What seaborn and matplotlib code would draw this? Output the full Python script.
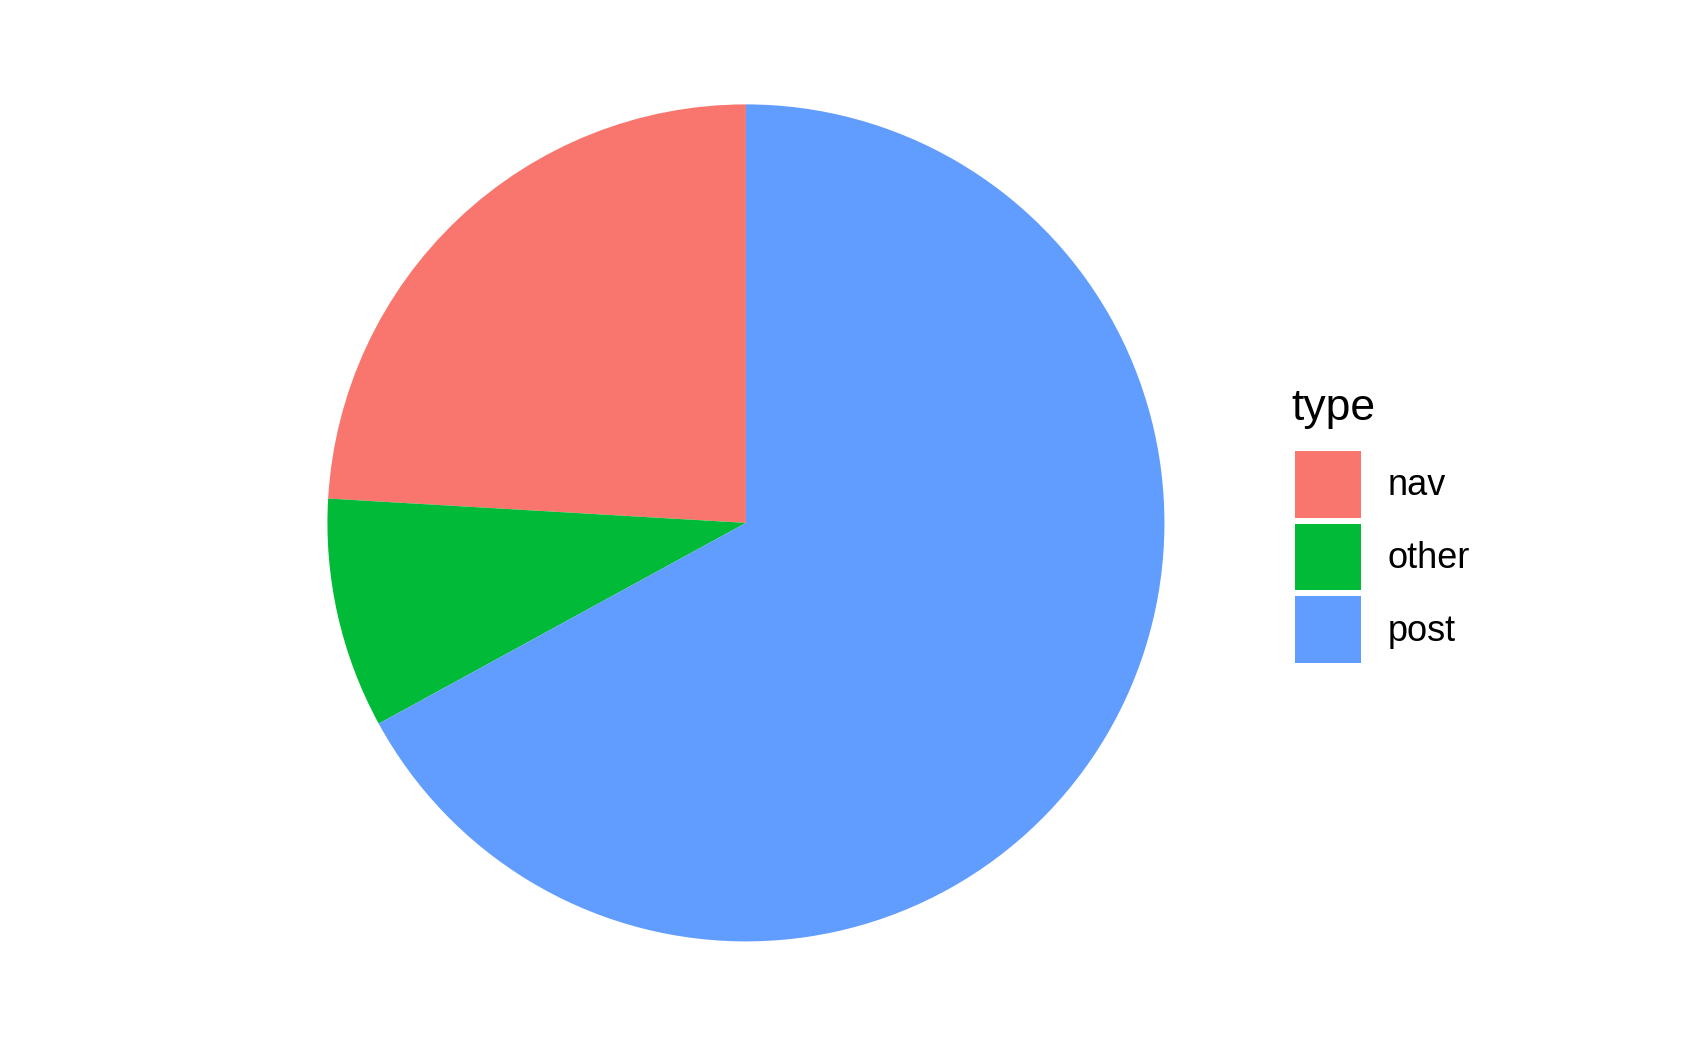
import matplotlib
matplotlib.use("Agg")
import matplotlib.pyplot as plt
from matplotlib.patches import Patch
import seaborn as sns

# share of pages by type
types = ["nav", "other", "post"]
counts = [65, 24, 181]
colors = ["#F8766D", "#00BA38", "#619CFF"]

sns.set_theme(style="white")
plt.rcParams['font.family'] = ['Liberation Sans', 'DejaVu Sans']

W, H = 1693, 1046
fig = plt.figure(figsize=(W / 100, H / 100), dpi=100)
ax = fig.add_axes([0.1934, 0.1000, 0.4944, 0.8002])

ax.pie(counts, colors=colors, startangle=90, counterclock=True,
       wedgeprops={"linewidth": 0})
ax.set_xlim(-1, 1)
ax.set_ylim(-1, 1)
ax.set_aspect("equal")
ax.axis("off")

# legend title drawn as plain text, keys via legend
fig.text(1291 / W, 1 - 420 / H, "type", fontsize=32, color="black",
         ha="left", va="baseline")

handles = [Patch(facecolor=c, edgecolor="none") for c in colors]
fs = 26
leg = fig.legend(handles, types, loc="upper left",
                 bbox_to_anchor=(1295 / W, 1 - 451 / H),
                 frameon=False, fontsize=fs,
                 handlelength=1.83, handleheight=2.46, labelspacing=0.17,
                 handletextpad=0.74, borderpad=0, borderaxespad=0)
for t in leg.get_texts():
    t.set_color("black")

fig.savefig("out.png", dpi=100)
